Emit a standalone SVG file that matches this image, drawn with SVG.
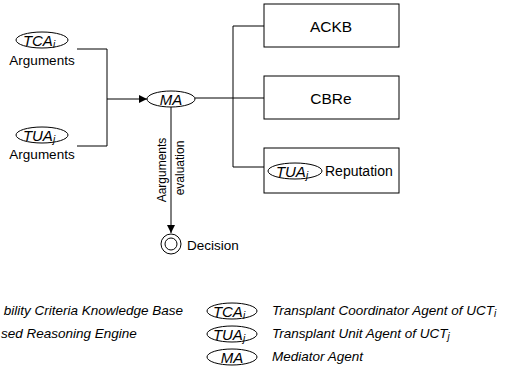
<svg xmlns="http://www.w3.org/2000/svg" width="507" height="383" viewBox="0 0 507 383">
<style>
text{font-family:"Liberation Sans",Arial,sans-serif;fill:#000}
.it{font-style:italic}
.ln{fill:none;stroke:#000;stroke-width:1}
.el{fill:#fff;stroke:#000;stroke-width:1}
.bx{fill:#fff;stroke:#000;stroke-width:1}
.et{font-size:15px;font-style:italic}
.sub{font-size:10px}
.lg{font-size:13.5px;font-style:italic}
</style>
<defs>
<marker id="ah" viewBox="0 0 10 10" refX="10" refY="5" markerWidth="8" markerHeight="8" markerUnits="userSpaceOnUse" orient="auto">
<path d="M0,0 L10,5 L0,10 Z" fill="#000"/>
</marker>
</defs>
<rect width="507" height="383" fill="#fff"/>
<g id="connectors">
<path class="ln" d="M77,49 H107 V146 H77"/>
<path class="ln" d="M107,99 H147" marker-end="url(#ah)"/>
<path class="ln" d="M195,98 H264"/>
<path class="ln" d="M264,26 H233 V167 H264"/>
<path class="ln" d="M171,107 V233" marker-end="url(#ah)"/>
<text transform="translate(166,170) rotate(-90)" text-anchor="middle" font-size="12">Aarguments</text>
<text transform="translate(184,168) rotate(-90)" text-anchor="middle" font-size="12">evaluation</text>
</g>
<g id="tca">
<ellipse class="el" cx="42" cy="40" rx="26" ry="8"/>
<text x="39" y="45.5" text-anchor="middle" class="et">TCA<tspan class="sub" dy="2">i</tspan></text>
<text x="42" y="65" text-anchor="middle" font-size="13.5">Arguments</text>
</g>
<g id="tua">
<ellipse class="el" cx="42" cy="135" rx="26" ry="8"/>
<text x="39" y="140.5" text-anchor="middle" class="et">TUA<tspan class="sub" dy="2">j</tspan></text>
<text x="42" y="159" text-anchor="middle" font-size="13.5">Arguments</text>
</g>
<g id="ma">
<ellipse class="el" cx="171" cy="99" rx="24" ry="8"/>
<text x="171" y="104.5" text-anchor="middle" class="et">MA</text>
</g>
<g id="ackb">
<rect class="bx" x="264" y="4" width="135" height="43"/>
<text x="331" y="31.5" text-anchor="middle" font-size="15.5">ACKB</text>
</g>
<g id="cbre">
<rect class="bx" x="264" y="76" width="135" height="43"/>
<text x="331" y="103.5" text-anchor="middle" font-size="15.5">CBRe</text>
</g>
<g id="reputation">
<rect class="bx" x="264" y="148" width="135" height="45"/>
<ellipse class="el" cx="295" cy="171" rx="27" ry="8"/>
<text x="292" y="176.5" text-anchor="middle" class="et">TUA<tspan class="sub" dy="2">j</tspan></text>
<text x="325" y="176" font-size="14">Reputation</text>
</g>
<g id="decision">
<circle class="el" cx="171" cy="244" r="10"/>
<circle class="el" cx="171" cy="244" r="6"/>
<text x="187" y="249.5" font-size="13.5">Decision</text>
</g>
<g id="legend">
<text x="183" y="315" text-anchor="end" class="lg">bility Criteria Knowledge Base</text>
<text x="1" y="338" class="lg">sed Reasoning Engine</text>
<ellipse class="el" cx="232" cy="311" rx="25" ry="8"/>
<text x="229" y="316.5" text-anchor="middle" class="et">TCA<tspan class="sub" dy="2">i</tspan></text>
<text x="272" y="315" class="lg">Transplant Coordinator Agent of UCT<tspan class="sub" dy="2">i</tspan></text>
<ellipse class="el" cx="232" cy="334" rx="25" ry="8"/>
<text x="229" y="339.5" text-anchor="middle" class="et">TUA<tspan class="sub" dy="2">j</tspan></text>
<text x="272" y="338" class="lg">Transplant Unit Agent of UCT<tspan class="sub" dy="2">j</tspan></text>
<ellipse class="el" cx="232" cy="357" rx="25" ry="8"/>
<text x="232" y="362.5" text-anchor="middle" class="et">MA</text>
<text x="272" y="361" class="lg">Mediator Agent</text>
</g>
</svg>
